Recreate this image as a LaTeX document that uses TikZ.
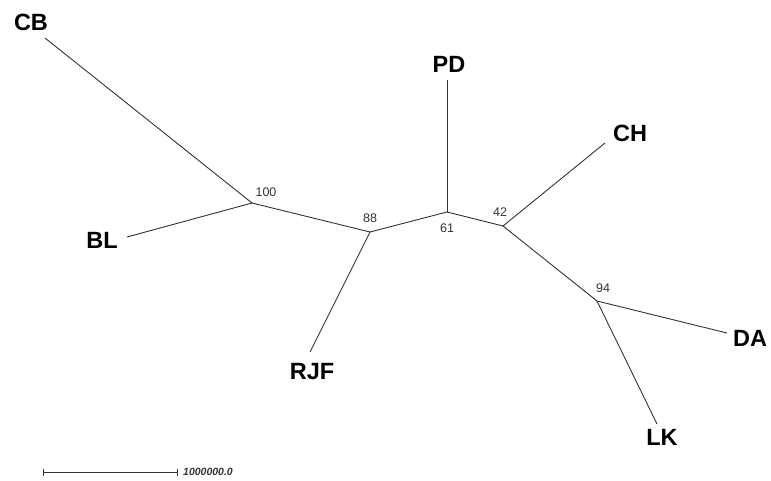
\documentclass[tikz,border=0pt]{standalone}
\usepackage{fontspec}
\setmainfont{Liberation Sans}
\begin{document}
\begin{tikzpicture}[x=1pt,y=-1pt,
  branch/.style={draw=black!80,line width=0.9pt},
  taxon/.style={font=\fontsize{23.5}{25}\selectfont\bfseries,inner sep=0pt},
  boot/.style={font=\fontsize{12.5}{14}\selectfont,text=black!80,inner sep=0pt},
  scalelab/.style={font=\fontsize{10.5}{12}\selectfont\bfseries\itshape,text=black!80,inner sep=0pt,anchor=west}]
\useasboundingbox (0,0) rectangle (771,480);
% internal nodes
\coordinate (n100) at (252,203);
\coordinate (n88) at (370,232);
\coordinate (n61) at (447,212);
\coordinate (n42) at (503,226);
\coordinate (n94) at (597,301);
% tips
\coordinate (tCB) at (45,38);
\coordinate (tBL) at (127,237);
\coordinate (tRJF) at (310,352);
\coordinate (tPD) at (447,80);
\coordinate (tCH) at (605,143);
\coordinate (tDA) at (727,333);
\coordinate (tLK) at (657,424);
% branches
\draw[branch] (tCB) -- (n100);
\draw[branch] (tBL) -- (n100);
\draw[branch] (n100) -- (n88);
\draw[branch] (tRJF) -- (n88);
\draw[branch] (n88) -- (n61);
\draw[branch] (tPD) -- (n61);
\draw[branch] (n61) -- (n42);
\draw[branch] (tCH) -- (n42);
\draw[branch] (n42) -- (n94);
\draw[branch] (tDA) -- (n94);
\draw[branch] (tLK) -- (n94);
% taxon labels
\node[taxon] (lCB) at (31,22) {CB};
\node[taxon] (lBL) at (102,240) {BL};
\node[taxon] (lRJF) at (312,372) {RJF};
\node[taxon] (lPD) at (449,64) {PD};
\node[taxon] (lCH) at (630,133) {CH};
\node[taxon] (lDA) at (750,338) {DA};
\node[taxon] (lLK) at (662,437) {LK};
% bootstrap values
\node[boot] (b100) at (266,192) {100};
\node[boot] (b88) at (370,218) {88};
\node[boot] (b61) at (447,228) {61};
\node[boot] (b42) at (500,212) {42};
\node[boot] (b94) at (603,288) {94};
% scale bar
\coordinate (sA) at (43,472);
\coordinate (sB) at (177,472);
\draw[branch,line width=0.8pt] (sA) -- (sB);
\draw[branch,line width=0.8pt] ([yshift=-3.5]sA) -- ([yshift=3.5]sA);
\draw[branch,line width=0.8pt] ([yshift=-3.5]sB) -- ([yshift=3.5]sB);
\node[scalelab] (sl) at (183,472) {1000000.0};
\end{tikzpicture}
\end{document}
